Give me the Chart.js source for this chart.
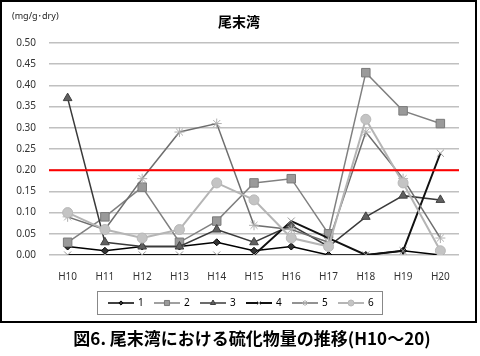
<!DOCTYPE html>
<html><head><meta charset="utf-8">
<script src="https://cdn.jsdelivr.net/npm/chart.js@4.4.0/dist/chart.umd.min.js"></script>
<style>html,body{margin:0;padding:0;background:#fff;}#wrap{position:relative;width:480px;height:356px;}</style>
</head><body>
<div id="wrap"><canvas id="c" width="480" height="356"></canvas></div>
<script>
const categories = ['H10','H11','H12','H13','H14','H15','H16','H17','H18','H19','H20'];
const series1 = [0.02,0.01,0.02,0.02,0.03,0.01,0.02,0.00,0.00,0.01,0.00];
const series2 = [0.03,0.09,0.16,0.03,0.08,0.17,0.18,0.05,0.43,0.34,0.31];
const series3 = [0.37,0.03,0.02,0.02,0.06,0.03,0.07,0.02,0.09,0.14,0.13];
const series4 = [0.00,0.00,0.00,0.00,0.00,0.00,0.08,0.04,0.00,0.01,0.24];
const series5 = [0.09,0.06,0.18,0.29,0.31,0.07,0.06,0.03,0.29,0.18,0.04];
const series6 = [0.10,0.06,0.04,0.06,0.17,0.13,0.04,0.02,0.32,0.17,0.01];
const seriesNames = ['1','2','3','4','5','6'];
const yMin = 0, yMax = 0.5, yStep = 0.05;
const threshold = 0.20;
const chartTitle = '尾末湾';
const unitLabel = '(mg/g･dry)';
const caption = '図6. 尾末湾における硫化物量の推移(H10～20)';

const seriesData = [series1, series2, series3, series4, series5, series6];
const styles = [
  {line:'#000000', lw:1.5, ps:'rectRot',  r:3.5, fill:'#333333', stroke:'#000000'},
  {line:'#808080', lw:1.5, ps:'rect',     r:6,   fill:'#9a9a9a', stroke:'#7a7a7a'},
  {line:'#3a3a3a', lw:1.5, ps:'triangle', r:5,   fill:'#606060', stroke:'#404040'},
  {line:'#111111', lw:2,   ps:'crossRot', r:5,   fill:'#999999', stroke:'#999999'},
  {line:'#6e6e6e', lw:1.5, ps:'star',     r:5,   fill:'#b0b0b0', stroke:'#b0b0b0'},
  {line:'#b5b5b5', lw:2,   ps:'circle',   r:5,   fill:'#c4c4c4', stroke:'#b8b8b8'}
];
const FONT = '"Noto Sans", "Noto Sans CJK JP", sans-serif';

const datasets = seriesData.map((d, i) => ({
  label: seriesNames[i],
  data: d,
  borderColor: styles[i].line,
  borderWidth: styles[i].lw,
  pointStyle: styles[i].ps,
  pointRadius: styles[i].r,
  pointBackgroundColor: styles[i].fill,
  pointBorderColor: styles[i].stroke,
  pointBorderWidth: 1,
  tension: 0,
  fill: false,
  order: 6 - i
}));

const decor = {
  id: 'decor',
  beforeDraw(chart) {
    const ctx = chart.ctx;
    ctx.save();
    ctx.fillStyle = '#fff';
    ctx.fillRect(0, 0, chart.width, chart.height);
    ctx.restore();
  },
  afterDatasetsDraw(chart) {
    const ctx = chart.ctx, a = chart.chartArea;
    const y = chart.scales.y.getPixelForValue(threshold);
    ctx.save();
    ctx.strokeStyle = '#ff0000';
    ctx.lineWidth = 2;
    ctx.beginPath();
    ctx.moveTo(a.left, y);
    ctx.lineTo(a.right, y);
    ctx.stroke();
    ctx.restore();
  },
  afterDraw(chart) {
    const ctx = chart.ctx;
    ctx.save();
    ctx.strokeStyle = '#000';
    ctx.lineWidth = 2;
    ctx.strokeRect(1, 1, 475, 321);
    ctx.fillStyle = '#000';
    ctx.textAlign = 'center';
    ctx.textBaseline = 'middle';
    ctx.font = 'bold 14px "Noto Sans CJK JP", sans-serif';
    ctx.fillText(chartTitle, 239, 22);
    ctx.textAlign = 'left';
    ctx.font = '9px ' + FONT;
    ctx.fillStyle = '#222';
    ctx.fillText(unitLabel, 12, 16);
    ctx.strokeStyle = '#888';
    ctx.lineWidth = 1;
    ctx.strokeRect(97.5, 291.5, 285, 23);
    const ly = 303;
    seriesNames.forEach((n, i) => {
      const s = styles[i];
      const x0 = 108 + i * 46;
      ctx.strokeStyle = s.line;
      ctx.lineWidth = s.lw;
      ctx.beginPath();
      ctx.moveTo(x0, ly);
      ctx.lineTo(x0 + 26, ly);
      ctx.stroke();
      ctx.fillStyle = s.fill;
      ctx.strokeStyle = s.stroke;
      ctx.lineWidth = 1;
      Chart.helpers.drawPoint(ctx, {pointStyle: s.ps, radius: s.r * 0.6, rotation: 0, borderWidth: 1}, x0 + 13, ly);
      ctx.fillStyle = '#000';
      ctx.font = '10px ' + FONT;
      ctx.textAlign = 'left';
      ctx.textBaseline = 'middle';
      ctx.fillText(n, x0 + 30, ly);
    });
    ctx.fillStyle = '#000';
    ctx.textAlign = 'center';
    ctx.textBaseline = 'middle';
    ctx.font = 'bold 17px "Noto Sans CJK JP", sans-serif';
    ctx.fillText(caption, 252, 339);
    ctx.restore();
  }
};

new Chart(document.getElementById('c'), {
  type: 'line',
  data: { labels: categories, datasets },
  options: {
    responsive: false,
    animation: false,
    layout: { padding: { top: 43, right: 21, bottom: 65, left: 0 } },
    plugins: { legend: { display: false }, title: { display: false }, tooltip: { enabled: false } },
    scales: {
      x: {
        type: 'category',
        offset: true,
        grid: { display: false },
        border: { display: false },
        ticks: { font: { family: FONT, size: 10 }, color: '#333', padding: 8, maxRotation: 0, autoSkip: false }
      },
      y: {
        min: yMin, max: yMax,
        ticks: { stepSize: yStep, callback: v => Number(v).toFixed(2), font: { family: FONT, size: 10 }, color: '#333', padding: 13 },
        grid: { color: '#c0c0c0', lineWidth: 1.5, drawTicks: false },
        border: { display: false },
        afterFit: s => { s.width = 49; }
      }
    }
  },
  plugins: [decor]
});
</script>
</body></html>
